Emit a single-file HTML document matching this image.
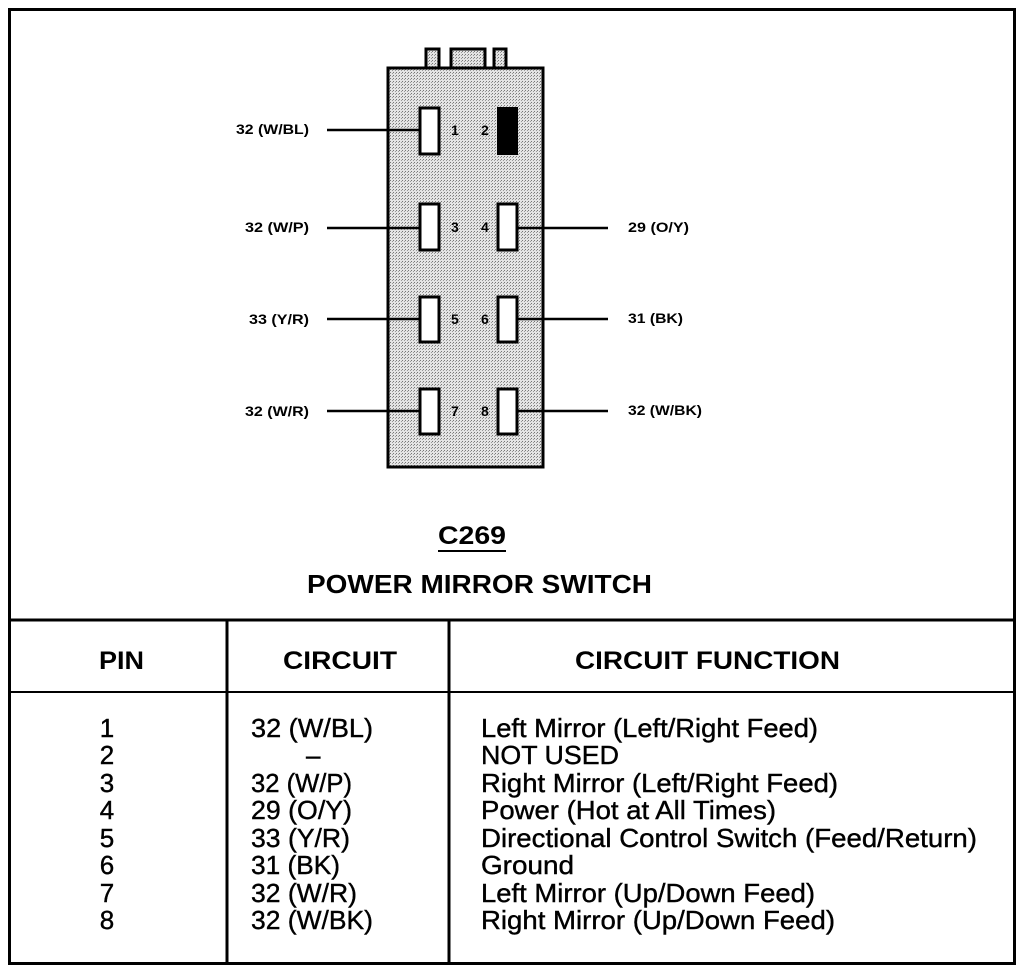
<!DOCTYPE html>
<html><head><style>
body{margin:0;background:#fff;}
svg{display:block}
text{font-family:"Liberation Sans",Arial,sans-serif;fill:#000}
</style></head><body>
<svg width="1024" height="972" viewBox="0 0 1024 972">
<defs>
<pattern id="dots" width="3" height="3" patternUnits="userSpaceOnUse">
<rect width="3" height="3" fill="#e4e4e4"/>
<rect x="0" y="0" width="1" height="1" fill="#777"/>
<rect x="2" y="1" width="1" height="1" fill="#999"/>
</pattern>
</defs>
<rect x="9.5" y="9.5" width="1005" height="954" fill="none" stroke="#000" stroke-width="3"/>
<line x1="9" y1="620" x2="1015" y2="620" stroke="#000" stroke-width="3"/>
<line x1="9" y1="692" x2="1015" y2="692" stroke="#000" stroke-width="2"/>
<line x1="227" y1="620" x2="227" y2="964" stroke="#000" stroke-width="3"/>
<line x1="449" y1="620" x2="449" y2="964" stroke="#000" stroke-width="3"/>
<rect x="426" y="49" width="13" height="19" fill="url(#dots)" stroke="#000" stroke-width="3"/>
<rect x="451" y="49" width="34" height="19" fill="url(#dots)" stroke="#000" stroke-width="3"/>
<rect x="494" y="49" width="12" height="19" fill="url(#dots)" stroke="#000" stroke-width="3"/>
<rect x="388" y="68" width="155" height="399" fill="url(#dots)" stroke="#000" stroke-width="3"/>
<g stroke="#000" stroke-width="2.5">
<line x1="327" y1="130" x2="420" y2="130"/>
<line x1="327" y1="228" x2="420" y2="228"/>
<line x1="327" y1="319" x2="420" y2="319"/>
<line x1="327" y1="411" x2="420" y2="411"/>
<line x1="517" y1="228" x2="608" y2="228"/>
<line x1="517" y1="319" x2="608" y2="319"/>
<line x1="517" y1="411" x2="608" y2="411"/>
</g>
<g fill="#fff" stroke="#000" stroke-width="3">
<rect x="420" y="108" width="19" height="46"/>
<rect x="420" y="204" width="19" height="46"/>
<rect x="498" y="204" width="19" height="46"/>
<rect x="420" y="297" width="19" height="45"/>
<rect x="498" y="297" width="19" height="45"/>
<rect x="420" y="389" width="19" height="45"/>
<rect x="498" y="389" width="19" height="45"/>
</g>
<rect x="497" y="107" width="21" height="48" fill="#000"/>
<g font-size="14" font-weight="bold">
<text x="451" y="135">1</text><text x="481" y="135">2</text>
<text x="451" y="232">3</text><text x="481" y="232">4</text>
<text x="451" y="324">5</text><text x="481" y="324">6</text>
<text x="451" y="416">7</text><text x="481" y="416">8</text>
</g>
<g font-size="14" font-weight="bold">
<text x="236" y="134" textLength="73" lengthAdjust="spacingAndGlyphs">32 (W/BL)</text>
<text x="245" y="232" textLength="64" lengthAdjust="spacingAndGlyphs">32 (W/P)</text>
<text x="249" y="324" textLength="60" lengthAdjust="spacingAndGlyphs">33 (Y/R)</text>
<text x="245" y="416" textLength="64" lengthAdjust="spacingAndGlyphs">32 (W/R)</text>
<text x="628" y="232" textLength="61" lengthAdjust="spacingAndGlyphs">29 (O/Y)</text>
<text x="628" y="323" textLength="55" lengthAdjust="spacingAndGlyphs">31 (BK)</text>
<text x="628" y="415" textLength="74" lengthAdjust="spacingAndGlyphs">32 (W/BK)</text>
</g>
<text x="438" y="544" font-size="25" font-weight="bold" textLength="68" lengthAdjust="spacingAndGlyphs">C269</text>
<line x1="438" y1="551" x2="506" y2="551" stroke="#000" stroke-width="2"/>
<text x="307" y="593" font-size="26" font-weight="bold" textLength="345" lengthAdjust="spacingAndGlyphs">POWER MIRROR SWITCH</text>
<g font-size="25" font-weight="bold">
<text x="99" y="669" textLength="45" lengthAdjust="spacingAndGlyphs">PIN</text>
<text x="283" y="669" textLength="114" lengthAdjust="spacingAndGlyphs">CIRCUIT</text>
<text x="575" y="669" textLength="265" lengthAdjust="spacingAndGlyphs">CIRCUIT FUNCTION</text>
</g>
<g font-size="26" stroke="#000" stroke-width="0.4">
<g text-anchor="middle">
<text x="107" y="737">1</text><text x="107" y="764">2</text><text x="107" y="792">3</text><text x="107" y="819">4</text>
<text x="107" y="847">5</text><text x="107" y="874">6</text><text x="107" y="902">7</text><text x="107" y="929">8</text>
</g>
<text x="251" y="737" textLength="122" lengthAdjust="spacingAndGlyphs">32 (W/BL)</text>
<text x="306" y="764">–</text>
<text x="251" y="792" textLength="101" lengthAdjust="spacingAndGlyphs">32 (W/P)</text>
<text x="251" y="819" textLength="101" lengthAdjust="spacingAndGlyphs">29 (O/Y)</text>
<text x="251" y="847" textLength="99" lengthAdjust="spacingAndGlyphs">33 (Y/R)</text>
<text x="251" y="874" textLength="89" lengthAdjust="spacingAndGlyphs">31 (BK)</text>
<text x="251" y="902" textLength="106" lengthAdjust="spacingAndGlyphs">32 (W/R)</text>
<text x="251" y="929" textLength="122" lengthAdjust="spacingAndGlyphs">32 (W/BK)</text>
<text x="481" y="737" textLength="337" lengthAdjust="spacingAndGlyphs">Left Mirror (Left/Right Feed)</text>
<text x="481" y="764" textLength="138" lengthAdjust="spacingAndGlyphs">NOT USED</text>
<text x="481" y="792" textLength="357" lengthAdjust="spacingAndGlyphs">Right Mirror (Left/Right Feed)</text>
<text x="481" y="819" textLength="295" lengthAdjust="spacingAndGlyphs">Power (Hot at All Times)</text>
<text x="481" y="847" textLength="496" lengthAdjust="spacingAndGlyphs">Directional Control Switch (Feed/Return)</text>
<text x="481" y="874" textLength="93" lengthAdjust="spacingAndGlyphs">Ground</text>
<text x="481" y="902" textLength="334" lengthAdjust="spacingAndGlyphs">Left Mirror (Up/Down Feed)</text>
<text x="481" y="929" textLength="354" lengthAdjust="spacingAndGlyphs">Right Mirror (Up/Down Feed)</text>
</g>
</svg>
</body></html>
